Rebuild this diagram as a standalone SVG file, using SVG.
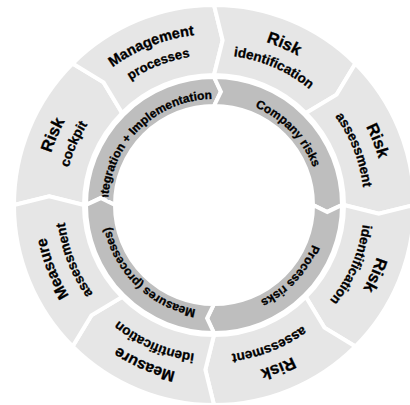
<svg xmlns="http://www.w3.org/2000/svg" width="410" height="405" viewBox="0 0 410 405">
<style>
.seg{fill:#e6e6e6;stroke:#fff;stroke-width:4;stroke-linejoin:miter}
.dseg{fill:#bebebe;stroke:#fff;stroke-width:4;stroke-linejoin:miter}
text{font-family:"Liberation Sans",Arial,sans-serif;font-weight:bold;fill:#000;stroke:#000;stroke-width:0.3;text-anchor:middle}
.l1{font-size:16px}
.l2{font-size:13.5px}
.d{font-size:12px}
</style>
<defs>
<path id="a1" d="M 43 205 A 171 171 0 0 1 385 205"/>
<path id="a2" d="M 64 205 A 150 150 0 0 1 364 205"/>
<path id="a3" d="M 108 205 A 106 106 0 0 1 320 205"/>
</defs>
<rect width="410" height="405" fill="#fff"/>
<g id="outer-ring">
<g id="risk-cockpit"><path class="seg" d="M 14 205 A 200 200 0 0 1 72.58 63.58 L 103.59 82.38 L 122.08 113.08 A 130 130 0 0 0 84 205 L 49.23 196.36 Z"/>
<g transform="rotate(-66.5 214 205)"><text class="l1" style="font-size:16.5px"><textPath href="#a1" startOffset="50%">Risk</textPath></text><text class="l2"><textPath href="#a2" startOffset="50%">cockpit</textPath></text></g></g>
<g id="management-processes"><path class="seg" d="M 72.58 63.58 A 200 200 0 0 1 214 5 L 222.64 40.23 L 214 75 A 130 130 0 0 0 122.08 113.08 L 103.59 82.38 Z"/>
<g transform="rotate(-21.5 214 205)"><text class="l1" style="font-size:14.5px"><textPath href="#a1" startOffset="50%">Management</textPath></text><text class="l2" style="font-size:13px"><textPath href="#a2" startOffset="50%">processes</textPath></text></g></g>
<g id="risk-identification-1"><path class="seg" d="M 214 5 A 200 200 0 0 1 355.42 63.58 L 336.62 94.59 L 305.92 113.08 A 130 130 0 0 0 214 75 L 222.64 40.23 Z"/>
<g transform="rotate(23.5 214 205)"><text class="l1" style="font-size:16.5px"><textPath href="#a1" startOffset="50%">Risk</textPath></text><text class="l2"><textPath href="#a2" startOffset="50%">identification</textPath></text></g></g>
<g id="risk-assessment-1"><path class="seg" d="M 355.42 63.58 A 200 200 0 0 1 414 205 L 378.77 213.64 L 344 205 A 130 130 0 0 0 305.92 113.08 L 336.62 94.59 Z"/>
<g transform="rotate(68.5 214 205)"><text class="l1" style="font-size:16.5px"><textPath href="#a1" startOffset="50%">Risk</textPath></text><text class="l2"><textPath href="#a2" startOffset="50%">assessment</textPath></text></g></g>
<g id="risk-identification-2"><path class="seg" d="M 414 205 A 200 200 0 0 1 355.42 346.42 L 324.41 327.62 L 305.92 296.92 A 130 130 0 0 0 344 205 L 378.77 213.64 Z"/>
<g transform="rotate(113.5 214 205)"><text class="l1" style="font-size:16.5px"><textPath href="#a1" startOffset="50%">Risk</textPath></text><text class="l2"><textPath href="#a2" startOffset="50%">identification</textPath></text></g></g>
<g id="risk-assessment-2"><path class="seg" d="M 355.42 346.42 A 200 200 0 0 1 214 405 L 205.36 369.77 L 214 335 A 130 130 0 0 0 305.92 296.92 L 324.41 327.62 Z"/>
<g transform="rotate(158.5 214 205)"><text class="l1" style="font-size:16.5px"><textPath href="#a1" startOffset="50%">Risk</textPath></text><text class="l2"><textPath href="#a2" startOffset="50%">assessment</textPath></text></g></g>
<g id="measure-identification"><path class="seg" d="M 214 405 A 200 200 0 0 1 72.58 346.42 L 91.38 315.41 L 122.08 296.92 A 130 130 0 0 0 214 335 L 205.36 369.77 Z"/>
<g transform="rotate(203.5 214 205)"><text class="l1" style="font-size:15.5px"><textPath href="#a1" startOffset="50%">Measure</textPath></text><text class="l2"><textPath href="#a2" startOffset="50%">identification</textPath></text></g></g>
<g id="measure-assessment"><path class="seg" d="M 72.58 346.42 A 200 200 0 0 1 14 205 L 49.23 196.36 L 84 205 A 130 130 0 0 0 122.08 296.92 L 91.38 315.41 Z"/>
<g transform="rotate(248.5 214 205)"><text class="l1" style="font-size:15.5px"><textPath href="#a1" startOffset="50%">Measure</textPath></text><text class="l2"><textPath href="#a2" startOffset="50%">assessment</textPath></text></g></g>
</g>
<g id="inner-ring">
<g id="integration-implementation"><path class="dseg" d="M 86 205 A 128 128 0 0 1 214 77 L 220.93 91.71 L 214 106 A 99 99 0 0 0 115 205 L 100.71 198.07 Z"/>
<g transform="rotate(-45.5 214 205)"><text class="d"><textPath href="#a3" startOffset="50%">Integration + Implementation</textPath></text></g></g>
<g id="company-risks"><path class="dseg" d="M 214 77 A 128 128 0 0 1 342 205 L 327.29 211.93 L 313 205 A 99 99 0 0 0 214 106 L 220.93 91.71 Z"/>
<g transform="rotate(46 214 205)"><text class="d"><textPath href="#a3" startOffset="50%">Company risks</textPath></text></g></g>
<g id="process-risks"><path class="dseg" d="M 342 205 A 128 128 0 0 1 214 333 L 207.07 318.29 L 214 304 A 99 99 0 0 0 313 205 L 327.29 211.93 Z"/>
<g transform="rotate(133 214 205)"><text class="d"><textPath href="#a3" startOffset="50%">Process risks</textPath></text></g></g>
<g id="measures-processes"><path class="dseg" d="M 214 333 A 128 128 0 0 1 86 205 L 100.71 198.07 L 115 205 A 99 99 0 0 0 214 304 L 207.07 318.29 Z"/>
<g transform="rotate(224 214 205)"><text class="d"><textPath href="#a3" startOffset="50%">Measures (processes)</textPath></text></g></g>
</g>
<g id="connectors"></g>
</svg>
